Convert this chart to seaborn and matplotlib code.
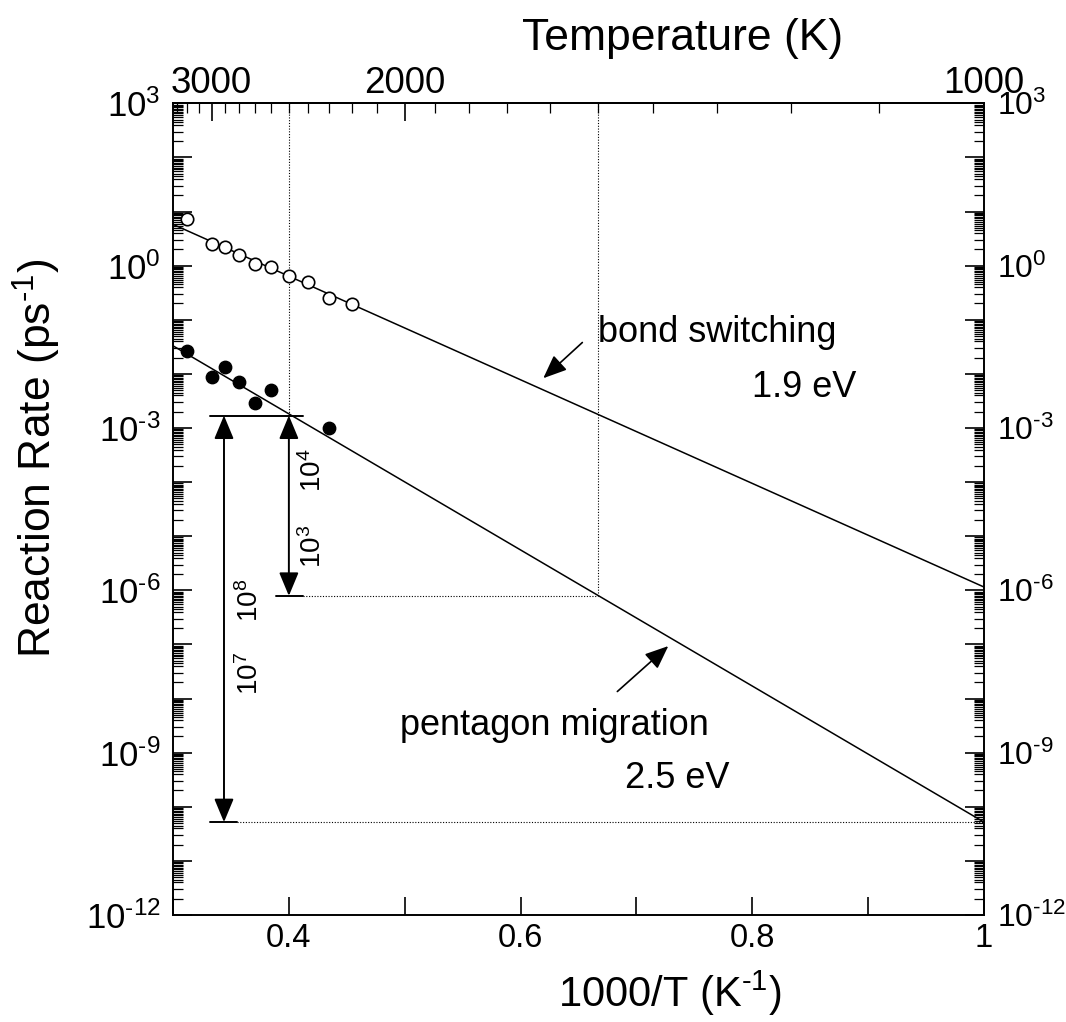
import numpy as np
import pandas as pd
import matplotlib
matplotlib.use("Agg")
import matplotlib.pyplot as plt
from matplotlib.ticker import (LogLocator, FuncFormatter, MultipleLocator,
                               FixedLocator, NullFormatter)
import seaborn as sns

# -----------------------------
# Data
# -----------------------------
# bond switching (open circles)
open_temps = [3200, 3000, 2900, 2800, 2700, 2600, 2500, 2400, 2300, 2200]
open_rates = [7.2, 2.5, 2.2, 1.57, 1.06, 0.93, 0.64, 0.50, 0.255, 0.193]
# pentagon migration (filled circles)
filled_temps = [3200, 3000, 2900, 2800, 2700, 2600, 2300]
filled_rates = [2.7e-2, 8.9e-3, 1.35e-2, 7.1e-3, 2.9e-3, 5.0e-3, 1.0e-3]

# Arrhenius fit lines (end points)
fit_x = [0.3, 1.0]
bond_fit = [5.8, 1.15e-6]
pent_fit = [3.3e-2, 5.2e-11]

# reference temperatures and pentagon-migration rate at them
ref_temps = [2500, 1500, 1000]
ref_rates = [1.7e-3, 7.9e-7, 5.2e-11]

temp_major = [3000, 2000, 1000]
temp_minor = [t for t in range(1100, 3400, 100) if t not in temp_major]

# -----------------------------
# Style
# -----------------------------
sns.set_style("ticks")
plt.rcParams['font.family'] = ['Liberation Sans', 'DejaVu Sans']
plt.rcParams['mathtext.fontset'] = 'custom'
plt.rcParams['mathtext.rm'] = 'Liberation Sans'
plt.rcParams['mathtext.it'] = 'Liberation Sans'
plt.rcParams['axes.linewidth'] = 1.4
for key in ['text.color', 'axes.labelcolor', 'xtick.color', 'ytick.color',
            'axes.edgecolor']:
    plt.rcParams[key] = 'black'

fig = plt.figure(figsize=(10.66, 10.22), dpi=100)
ax = fig.add_axes([0.1623, 0.1047, 0.7608, 0.7942])

inv_open = [1000 / t for t in open_temps]
inv_filled = [1000 / t for t in filled_temps]
ref_x = [1000 / t for t in ref_temps]

fits = pd.DataFrame({'x': fit_x + fit_x,
                     'rate': bond_fit + pent_fit,
                     'process': ['bond'] * 2 + ['pentagon'] * 2})
sns.lineplot(data=fits, x='x', y='rate', units='process', estimator=None,
             color='black', linewidth=1.1, ax=ax, sort=False)

sns.scatterplot(x=inv_open, y=open_rates, marker='o', s=80, color='white',
                edgecolor='black', linewidth=1.2, ax=ax, zorder=4)
sns.scatterplot(x=inv_filled, y=filled_rates, marker='o', s=80, color='black',
                edgecolor='black', linewidth=1.0, ax=ax, zorder=4)

ax.set_yscale('log')
ax.set_xlim(0.3, 1.0)
ax.set_ylim(1e-12, 1e3)

# dotted guide lines
dot = dict(color='black', linewidth=0.8, linestyle=(0, (1, 1.5)))
ax.plot([ref_x[0], ref_x[0]], [1e3, ref_rates[0]], **dot)
ax.plot([ref_x[1], ref_x[1]], [1e3, ref_rates[1]], **dot)
ax.plot([0.412, ref_x[1]], [ref_rates[1], ref_rates[1]], **dot)
ax.plot([0.355, ref_x[2]], [ref_rates[2], ref_rates[2]], **dot)

# solid bracket lines
sol = dict(color='black', linewidth=1.4)
ax.plot([0.332, 0.412], [ref_rates[0], ref_rates[0]], **sol)
ax.plot([0.389, 0.412], [ref_rates[1], ref_rates[1]], **sol)
ax.plot([0.332, 0.355], [ref_rates[2], ref_rates[2]], **sol)

arrow2 = dict(arrowstyle='<|-|>,head_length=1.2,head_width=0.5',
              mutation_scale=12, color='black', linewidth=1.4,
              shrinkA=0, shrinkB=0)
ax.annotate('', xy=(0.344, ref_rates[0]), xytext=(0.344, ref_rates[2]),
            arrowprops=arrow2)
ax.annotate('', xy=(ref_x[0], ref_rates[0]), xytext=(ref_x[0], ref_rates[1]),
            arrowprops=arrow2)

rot = dict(rotation=90, ha='center', va='center', fontsize=20)
ax.text(0.421, 10**-3.78, r'$10^{4}$', **rot)
ax.text(0.421, 10**-5.19, r'$10^{3}$', **rot)
ax.text(0.3665, 10**-6.18, r'$10^{8}$', **rot)
ax.text(0.3665, 10**-7.53, r'$10^{7}$', **rot)

# labels for the two processes
arrow1 = dict(arrowstyle='-|>,head_length=1.2,head_width=0.5',
              mutation_scale=12, color='black', linewidth=1.2,
              shrinkA=0, shrinkB=0)
ax.annotate('', xy=(0.6196, 10**-2.08), xytext=(0.6533, 10**-1.42),
            arrowprops=arrow1)
ax.annotate('', xy=(0.7275, 10**-7.03), xytext=(0.6835, 10**-7.87),
            arrowprops=arrow1)
ax.text(0.6668, 10**-1.406, 'bond switching', fontsize=26, va='baseline')
ax.text(0.80, 10**-2.42, '1.9 eV', fontsize=26, va='baseline')
ax.text(0.4959, 10**-8.674, 'pentagon migration', fontsize=26, va='baseline')
ax.text(0.690, 10**-9.654, '2.5 eV', fontsize=26, va='baseline')

# -----------------------------
# Axes / ticks
# -----------------------------
def y_fmt(v, pos):
    e = int(round(np.log10(v)))
    if e % 3:
        return ''
    if e < 0:
        return r'$10^{\text{-}%d}$' % (-e)
    return r'$10^{%d}$' % e

def x_fmt(v, pos):
    if abs(v - 1.0) < 1e-6:
        return '1'
    if any(abs(v - m) < 1e-6 for m in (0.4, 0.6, 0.8)):
        return '%.1f' % v
    return ''

ax.yaxis.set_major_locator(LogLocator(base=10, numticks=30))
ax.yaxis.set_major_formatter(FuncFormatter(y_fmt))
ax.yaxis.set_minor_locator(LogLocator(base=10, numticks=30,
                           subs=[2, 3, 4, 4.5, 5, 5.5, 6, 6.5, 7, 7.5, 8, 8.5, 9, 9.5]))
ax.yaxis.set_minor_formatter(NullFormatter())
ax.xaxis.set_major_locator(MultipleLocator(0.1))
ax.xaxis.set_major_formatter(FuncFormatter(x_fmt))

ax.tick_params(axis='y', which='both', direction='in', left=True, right=True,
               labelleft=True, labelright=True, labelsize=25, pad=9)
ax.tick_params(axis='y', which='major', length=13.5, width=1.2)
ax.tick_params(axis='y', which='minor', length=7, width=0.9)
ax.tick_params(axis='x', which='major', direction='in', top=False, bottom=True,
               length=13, width=1.2, labelsize=23.5, pad=6)

# right-hand labels sit close to the figure edge: slightly smaller
for tick in ax.yaxis.get_major_ticks():
    tick.label2.set_fontsize(23)

ax.set_xlabel(r'1000/T (K$^{\text{-}1}$)', fontsize=30)
ax.xaxis.set_label_coords(0.613, -0.066)
ax.set_ylabel(r'Reaction Rate (ps$^{\text{-}1}$)', fontsize=32)
ax.yaxis.set_label_coords(-0.1356, 0.5624)

def inv(v):
    v = np.asarray(v, dtype=float)
    with np.errstate(divide='ignore'):
        return np.where(v == 0, np.inf, 1000.0 / np.where(v == 0, 1, v))

sec = ax.secondary_xaxis('top', functions=(inv, inv))
sec.xaxis.set_major_locator(FixedLocator(temp_major))
sec.xaxis.set_minor_locator(FixedLocator(temp_minor))
sec.xaxis.set_major_formatter(FuncFormatter(lambda v, p: '%d' % round(v)))
sec.tick_params(axis='x', which='major', direction='in', length=13, width=1.2,
                labelsize=26.5, pad=1.5)
sec.tick_params(axis='x', which='minor', direction='in', length=7, width=0.9)

fig.text(0.6407, 0.9511, 'Temperature (K)', fontsize=32, ha='center',
         va='baseline')

for s in ax.spines.values():
    s.set_visible(True)
    s.set_color('black')
    s.set_linewidth(1.4)

fig.savefig('out.png', dpi=100)
